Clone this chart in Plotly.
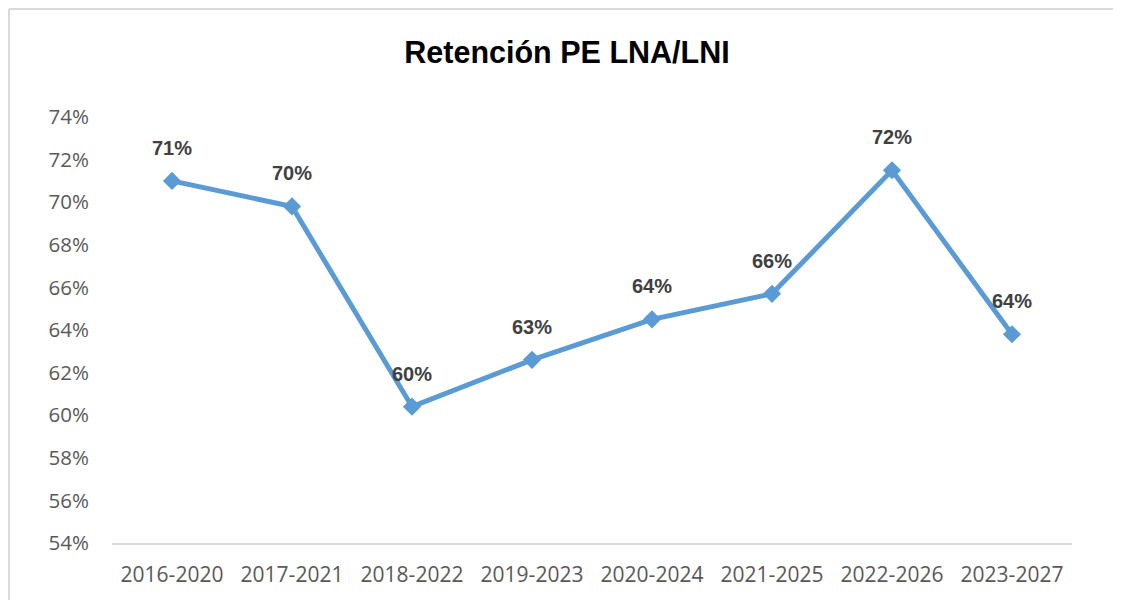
import plotly.graph_objects as go

categories = ["2016-2020", "2017-2021", "2018-2022", "2019-2023",
              "2020-2024", "2021-2025", "2022-2026", "2023-2027"]
retention = [0.710, 0.698, 0.604, 0.626, 0.645, 0.657, 0.715, 0.638]
title_text = "Retención PE LNA/LNI"

line_color = "#5B9BD5"

fig = go.Figure()
fig.add_trace(go.Scatter(
    x=categories, y=retention, mode="lines+markers",
    line=dict(color=line_color, width=5),
    marker=dict(symbol="diamond", size=14, color=line_color),
    hoverinfo="skip", showlegend=False,
))

for c, v in zip(categories, retention):
    fig.add_annotation(
        x=c, y=v, text=f"{round(v * 100)}%", showarrow=False,
        yshift=33, xanchor="center", yanchor="middle",
        font=dict(family="Liberation Sans", size=20, color="#404040", weight="bold"),
    )

# outer chart border: only left and top edges are visible in the image
border = dict(color="#d9d9d9", width=2)
fig.add_shape(type="line", xref="paper", yref="paper",
              x0=-0.1073, x1=-0.1073, y0=-0.3, y1=1.2535, line=border, layer="below")
fig.add_shape(type="line", xref="paper", yref="paper",
              x0=-0.1073, x1=1.3, y0=1.2535, y1=1.2535, line=border, layer="below")

fig.update_layout(
    width=1105, height=592,
    margin=dict(l=104, r=41, t=109, b=57),
    paper_bgcolor="white", plot_bgcolor="white",
    title=dict(text=title_text, x=559 / 1105, xref="container", xanchor="center",
               y=1 - 44 / 592, yref="container", yanchor="middle",
               font=dict(family="Liberation Sans", size=30.5, color="#000000", weight="bold")),
    xaxis=dict(range=[-0.5, 7.5], showgrid=False, zeroline=False,
               showline=True, linecolor="#d9d9d9", linewidth=2,
               ticks="", ticklabelstandoff=12,
               tickfont=dict(family="Open Sans", size=21, color="#595959")),
    yaxis=dict(range=[0.54, 0.74], dtick=0.02, tickformat=".0%",
               showgrid=False, zeroline=False, showline=False,
               ticks="", ticklabelstandoff=22,
               tickfont=dict(family="Open Sans", size=20.5, color="#595959")),
)

fig.write_html("out.html")
